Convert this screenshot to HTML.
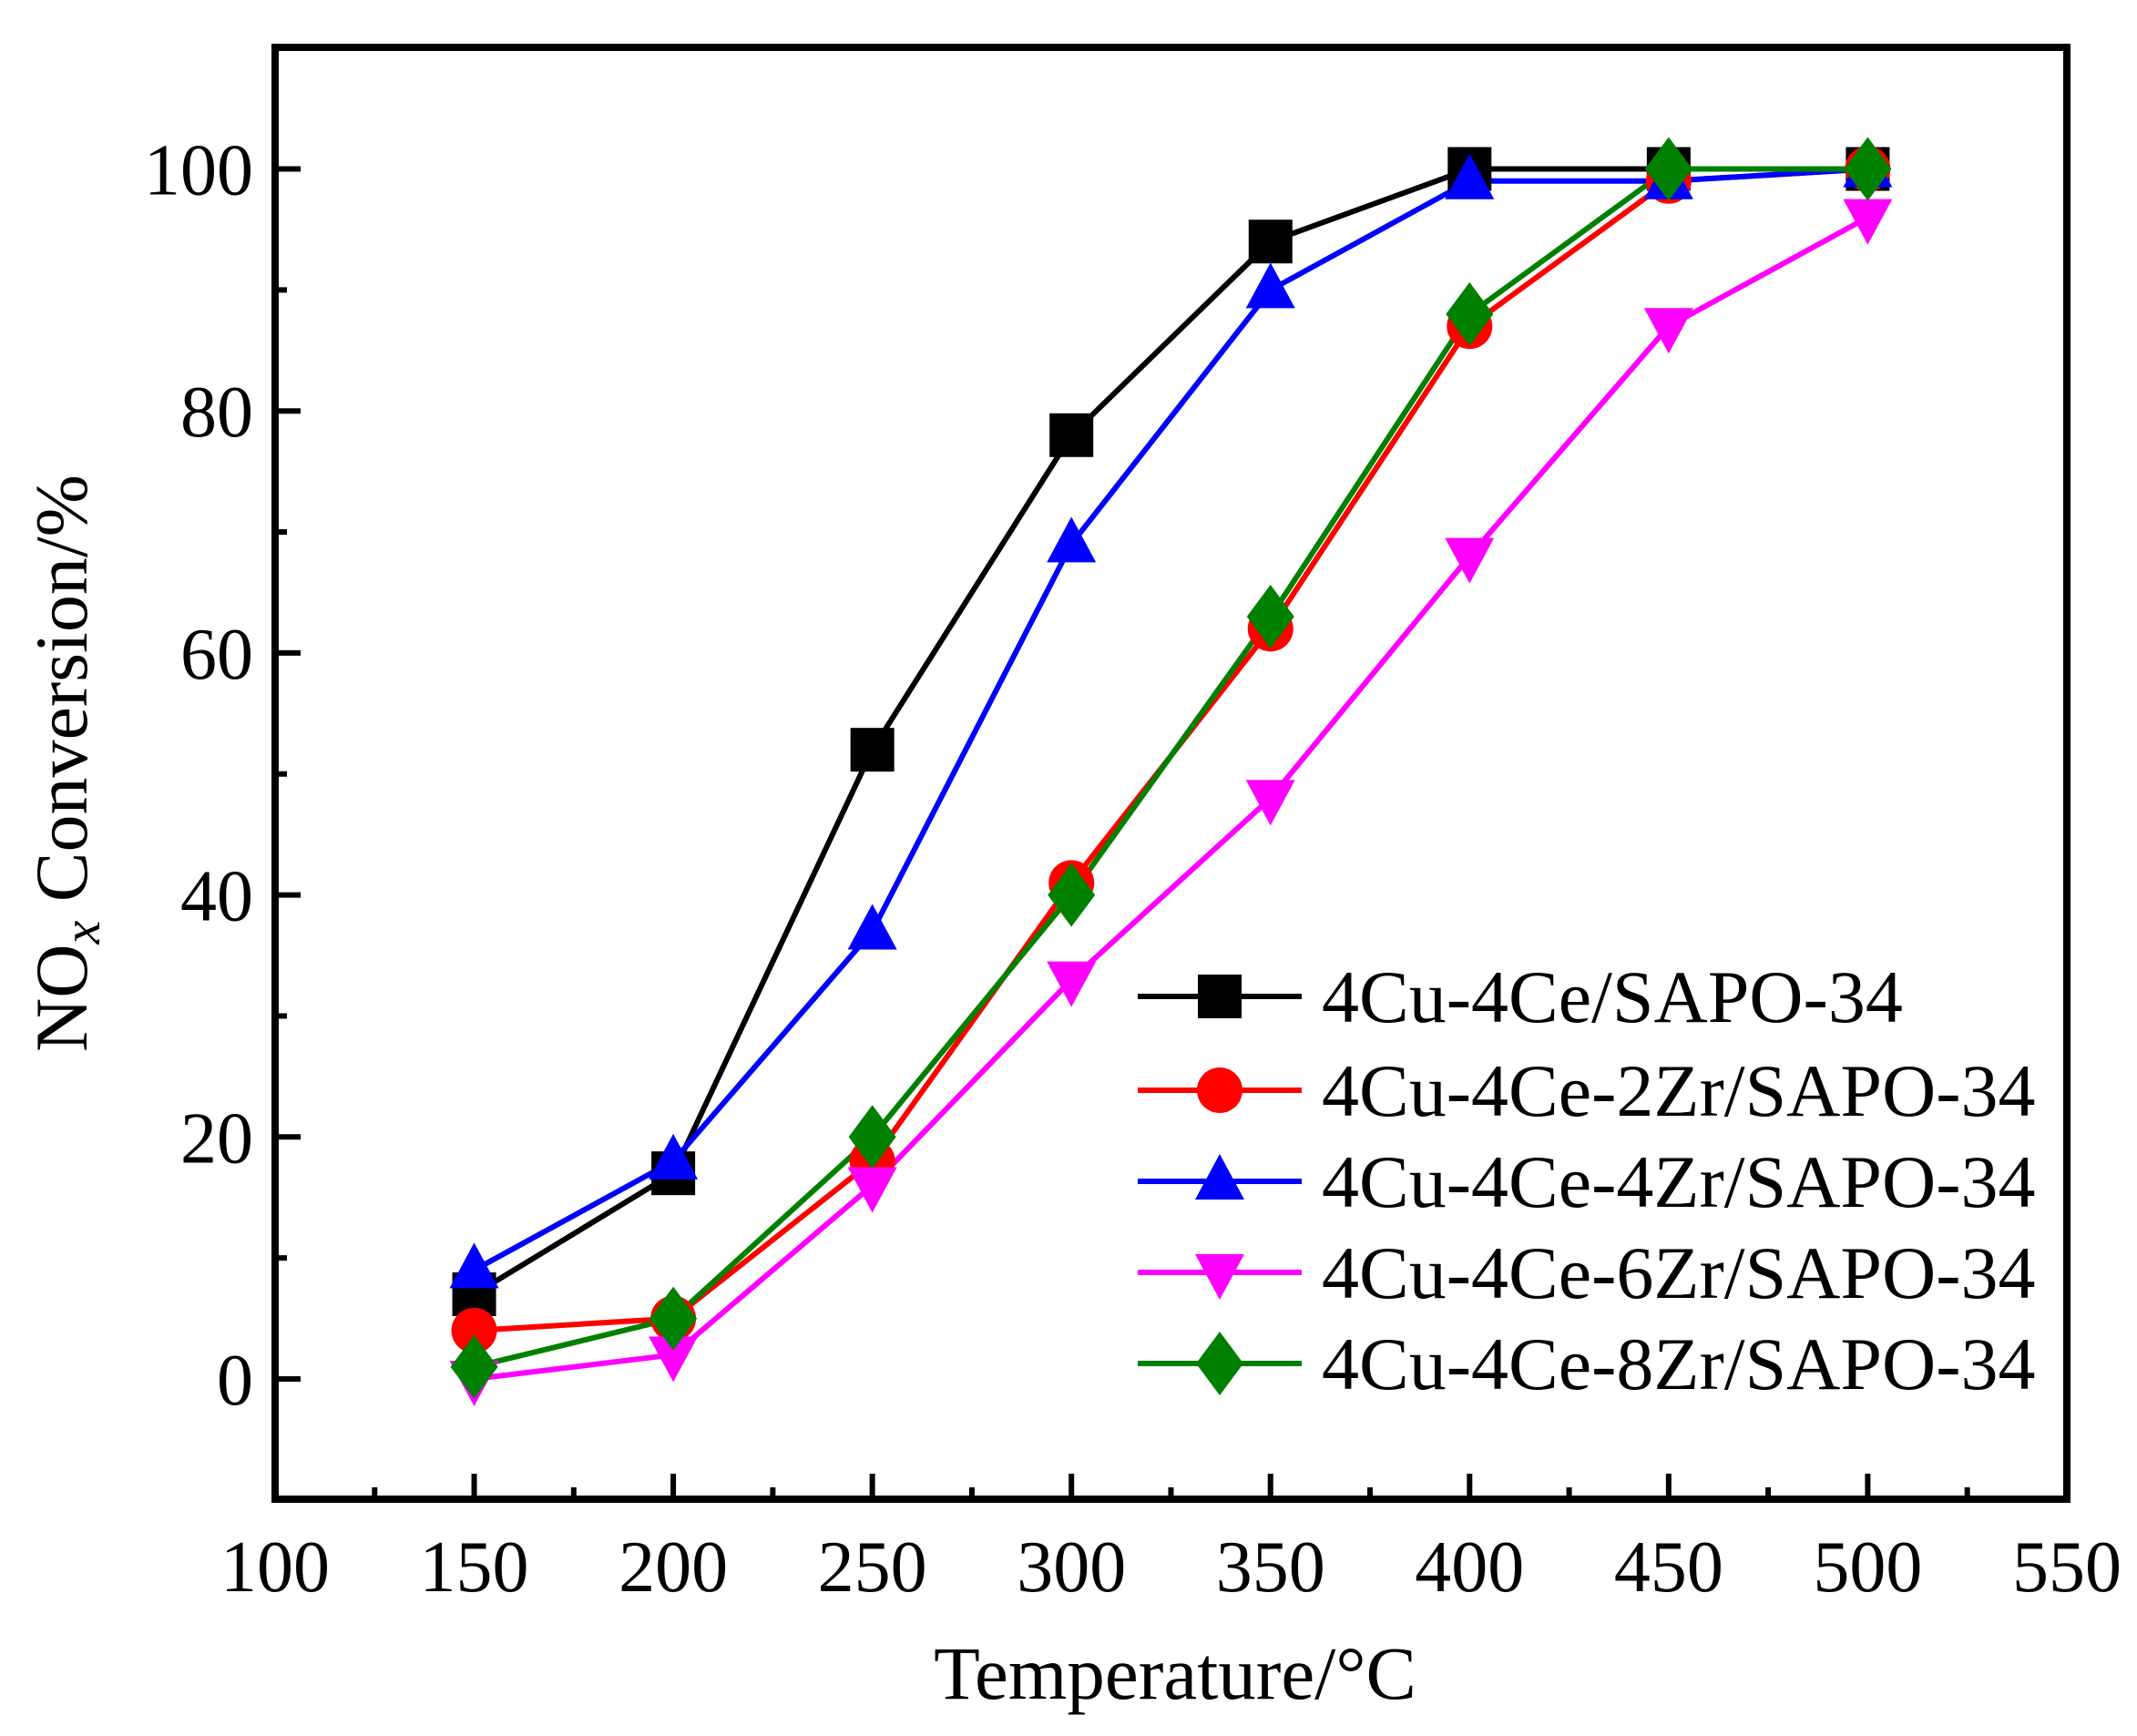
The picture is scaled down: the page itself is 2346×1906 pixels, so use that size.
<!DOCTYPE html>
<html><head><meta charset="utf-8"><style>html,body{margin:0;padding:0;background:#fff}svg{display:block}</style></head>
<body>
<svg id="s" width="2346" height="1906" viewBox="0 0 2346 1906" xmlns="http://www.w3.org/2000/svg" font-family="Liberation Serif, serif">
<rect width="2346" height="1906" fill="#fff"/>
<g id="ticks" stroke="#000" stroke-width="6"></g>
<g id="lines" fill="none" stroke-width="6" stroke-linejoin="round"></g>
<g id="marks"></g>
<rect x="302" y="52" width="1967" height="1594" fill="none" stroke="#000" stroke-width="8"/>
<g font-size="80" text-anchor="middle" id="xl"></g>
<g font-size="80" text-anchor="end" id="yl"></g>
<text x="1290" y="1865" font-size="83" text-anchor="middle">Temperature/°C</text>
<text transform="translate(95,838) rotate(-90)" font-size="82" text-anchor="middle">NO<tspan font-style="italic" font-size="58" dy="14">x</tspan><tspan dy="-14"> Conversion/%</tspan></text>
<g id="leg" font-size="82"></g>
</svg>
<script>
const NS="http://www.w3.org/2000/svg";
const X=v=>302+(v-100)*4.371, Y=v=>1514-v*13.285;
function el(p,t,a,txt){const e=document.createElementNS(NS,t);for(const k in a)e.setAttribute(k,a[k]);if(txt!=null)e.textContent=txt;document.getElementById(p).appendChild(e);return e;}
for(let v=125;v<550;v+=25){const maj=v%50==0;el("ticks","line",{x1:X(v),x2:X(v),y1:1646,y2:1646-(maj?28:13)});}
for(let v=-10;v<=110;v+=10){if(v==-10||v==110)continue;const maj=v%20==0;el("ticks","line",{x1:302,x2:302+(maj?28:13),y1:Y(v),y2:Y(v)});}
for(let v=100;v<=550;v+=50)el("xl","text",{x:X(v),y:1747},v);
for(let v=0;v<=100;v+=20)el("yl","text",{x:278,y:Y(v)+28},v);
const T=[150,200,250,300,350,400,450,500];
const S=[
["#000","sq",[7,17,52,78,94,100,100,100],"4Cu-4Ce/SAPO-34"],
["#ff0000","ci",[4,5,18,41,62,87,99,100],"4Cu-4Ce-2Zr/SAPO-34"],
["#0000ff","tu",[9,18,37,69,90,99,99,100],"4Cu-4Ce-4Zr/SAPO-34"],
["#ff00ff","td",[0,2,16,33,48,68,87,96],"4Cu-4Ce-6Zr/SAPO-34"],
["#008000","di",[1,5,20,40,63,88,100,100],"4Cu-4Ce-8Zr/SAPO-34"]];
function mk(g,type,x,y,c){
 if(type=="sq")el(g,"rect",{x:x-24,y:y-24,width:48,height:48,fill:c});
 else if(type=="ci")el(g,"circle",{cx:x,cy:y,r:25,fill:c});
 else if(type=="tu")el(g,"polygon",{points:`${x},${y-30} ${x+27},${y+20} ${x-27},${y+20}`,fill:c});
 else if(type=="td")el(g,"polygon",{points:`${x},${y+30} ${x+27},${y-20} ${x-27},${y-20}`,fill:c});
 else el(g,"polygon",{points:`${x},${y-35} ${x+26},${y} ${x},${y+35} ${x-26},${y}`,fill:c});
}
const LY=[1094,1197,1297,1397,1497];
S.forEach((s,i)=>{
 el("lines","polyline",{points:T.map((t,j)=>X(t)+","+Y(s[2][j])).join(" "),stroke:s[0]});
 T.forEach((t,j)=>mk("marks",s[1],X(t),Y(s[2][j]),s[0]));
 el("leg","line",{x1:1249,x2:1429,y1:LY[i],y2:LY[i],stroke:s[0],"stroke-width":6});
 mk("leg",s[1],1339,LY[i],s[0]);
 el("leg","text",{x:1451,y:LY[i]+28},s[3]);
});
</script>
</body></html>
